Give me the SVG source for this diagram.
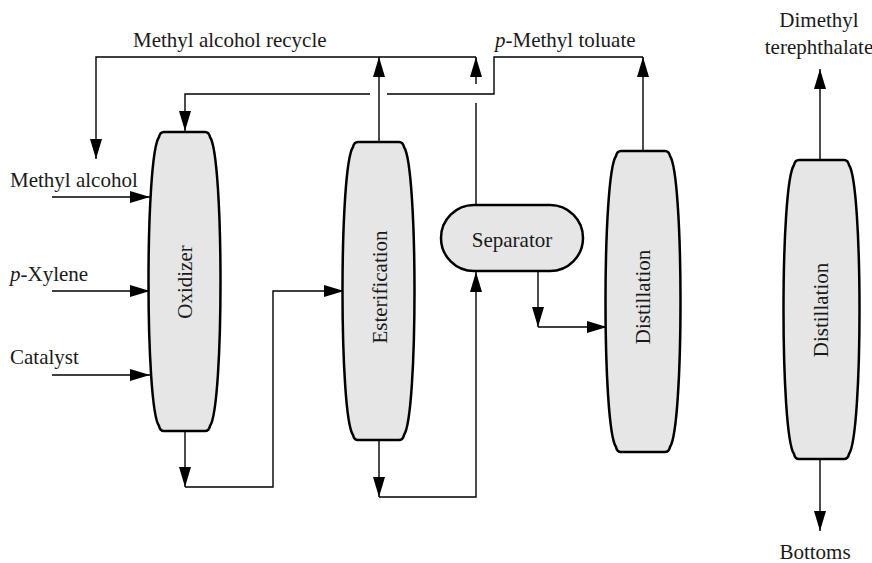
<svg xmlns="http://www.w3.org/2000/svg" width="872" height="563" viewBox="0 0 872 563" font-family="'Liberation Serif', 'Times New Roman', Times, serif">
<defs>
<marker id="ah" markerUnits="userSpaceOnUse" markerWidth="20" markerHeight="12" refX="20" refY="6" orient="auto"><path d="M0,0 L20,6 L0,12 z" fill="#000"/></marker>
</defs>
<style>
.v{fill:#e6e6e6;stroke:#000;stroke-width:2.5;stroke-linejoin:round}
.c{fill:none;stroke:#000;stroke-width:1.4}
.a{marker-end:url(#ah)}
.t{font-family:'Liberation Serif','Times New Roman',Times,serif;font-size:21px;fill:#1a1a1a}
.m{text-anchor:middle}
</style>
<rect width="872" height="563" fill="#fff"/>
<g id="connectors">
<line class="c a" x1="52" y1="197" x2="150" y2="197"/>
<line class="c a" x1="52" y1="291" x2="150" y2="291"/>
<line class="c a" x1="52" y1="375" x2="150" y2="375"/>
<polyline class="c a" points="476,57 96,57 96,159"/>
<line class="c a" x1="379" y1="142" x2="379" y2="57"/>
<line class="c" x1="476" y1="205" x2="476" y2="103"/>
<line class="c a" x1="476" y1="84" x2="476" y2="57"/>
<line class="c a" x1="643" y1="151" x2="643" y2="57"/>
<polyline class="c" points="643,57 494,57 494,94 387,94"/>
<polyline class="c a" points="370,94 185,94 185,131"/>
<line class="c a" x1="185" y1="431" x2="185" y2="487"/>
<polyline class="c a" points="185,487 273,487 273,291 344,291"/>
<line class="c a" x1="379" y1="440" x2="379" y2="497"/>
<polyline class="c a" points="379,497 476,497 476,272"/>
<line class="c a" x1="538" y1="271" x2="538" y2="327"/>
<polyline class="c a" points="538,327 607,327"/>
<line class="c a" x1="820" y1="160" x2="820" y2="69"/>
<line class="c a" x1="820" y1="459" x2="820" y2="531"/>
</g>
<g id="oxidizer">
<path class="v" d="M164,132 H205 Q209,132 210,137 C224,157 224,406 210,426 Q209,431 205,431 H164 Q160,431 159,426 C145,406 145,157 159,137 Q160,132 164,132 Z"/>
<text class="t m" font-family="Liberation Serif, serif" transform="translate(185,282) rotate(-90)" y="7">Oxidizer</text>
</g>
<g id="esterification">
<path class="v" d="M358,142 H399 Q403,142 404,147 C418,167 418,415 404,435 Q403,440 399,440 H358 Q354,440 353,435 C339,415 339,167 353,147 Q354,142 358,142 Z"/>
<text class="t m" font-family="Liberation Serif, serif" transform="translate(380,287) rotate(-90)" y="7">Esterification</text>
</g>
<g id="separator">
<rect class="v" x="441" y="205" width="142" height="66" rx="33" ry="33"/>
<text class="t m" font-family="Liberation Serif, serif" x="512" y="247">Separator</text>
</g>
<g id="distillation1">
<path class="v" d="M621,151 H665 Q669,151 670,156 C684,176 684,427 670,447 Q669,452 665,452 H621 Q617,452 616,447 C602,427 602,176 616,156 Q617,151 621,151 Z"/>
<text class="t m" font-family="Liberation Serif, serif" transform="translate(643,297) rotate(-90)" y="7">Distillation</text>
</g>
<g id="distillation2">
<path class="v" d="M799,160 H844 Q848,160 849,165 C863,185 863,434 849,454 Q848,459 844,459 H799 Q795,459 794,454 C780,434 780,185 794,165 Q795,160 799,160 Z"/>
<text class="t m" font-family="Liberation Serif, serif" transform="translate(821,310) rotate(-90)" y="7">Distillation</text>
</g>
<g id="labels" font-family="Liberation Serif, serif">
<text class="t" x="133" y="47">Methyl alcohol recycle</text>
<text class="t" x="495" y="47"><tspan font-style="italic">p</tspan>-Methyl toluate</text>
<text class="t m" x="819" y="27">Dimethyl</text>
<text class="t m" x="819" y="54">terephthalate</text>
<text class="t m" x="815" y="559">Bottoms</text>
<text class="t" x="10" y="187">Methyl alcohol</text>
<text class="t" x="10" y="281"><tspan font-style="italic">p</tspan>-Xylene</text>
<text class="t" x="10" y="364">Catalyst</text>
</g>
</svg>
